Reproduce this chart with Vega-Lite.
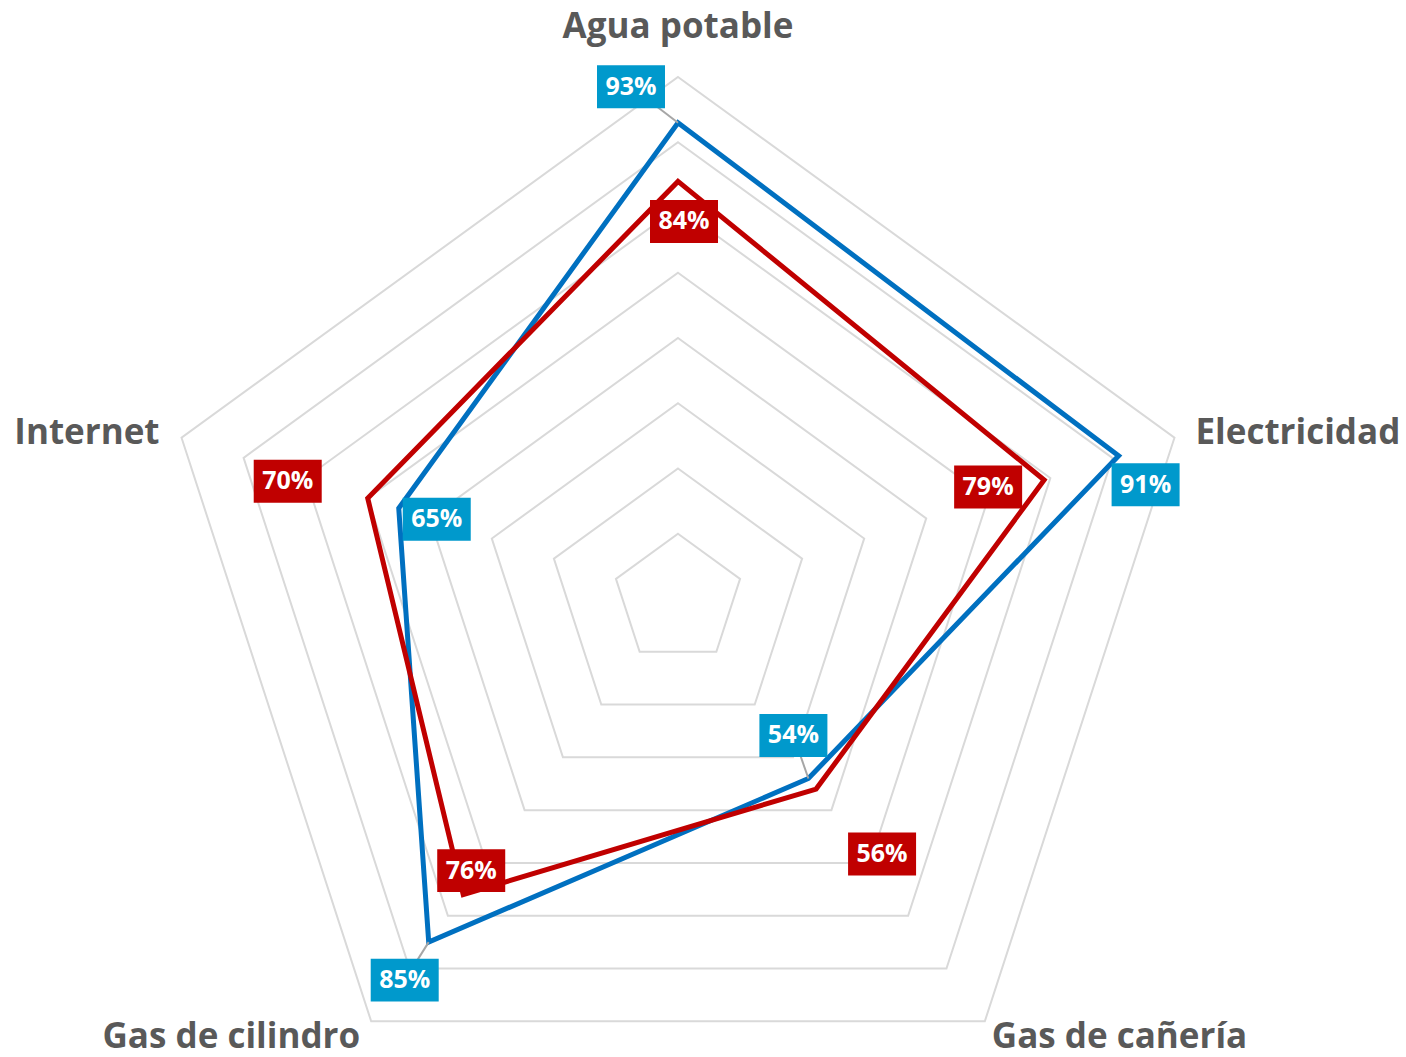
{
  "$schema": "https://vega.github.io/schema/vega-lite/v6.json",
  "width": 1406,
  "height": 1057,
  "autosize": {"type": "none"},
  "padding": 0,
  "background": "white",
  "config": {"view": {"stroke": null}},
  "datasets": {
    "values": [
      {"series": "Serie 1", "category": "Agua potable", "value": 0.93},
      {"series": "Serie 1", "category": "Electricidad", "value": 0.91},
      {"series": "Serie 1", "category": "Gas de cañería", "value": 0.54},
      {"series": "Serie 1", "category": "Gas de cilindro", "value": 0.85},
      {"series": "Serie 1", "category": "Internet", "value": 0.65},
      {"series": "Serie 2", "category": "Agua potable", "value": 0.84},
      {"series": "Serie 2", "category": "Electricidad", "value": 0.79},
      {"series": "Serie 2", "category": "Gas de cañería", "value": 0.56},
      {"series": "Serie 2", "category": "Gas de cilindro", "value": 0.76},
      {"series": "Serie 2", "category": "Internet", "value": 0.70}
    ],
    "grid": [
      {"level": 0.3, "idx": [0, 1, 2, 3, 4]},
      {"level": 0.4, "idx": [0, 1, 2, 3, 4]},
      {"level": 0.5, "idx": [0, 1, 2, 3, 4]},
      {"level": 0.6, "idx": [0, 1, 2, 3, 4]},
      {"level": 0.7, "idx": [0, 1, 2, 3, 4]},
      {"level": 0.8, "idx": [0, 1, 2, 3, 4]},
      {"level": 0.9, "idx": [0, 1, 2, 3, 4]},
      {"level": 1.0, "idx": [0, 1, 2, 3, 4]}
    ]
  },
  "layer": [
    {
      "data": {"name": "grid"},
      "transform": [
        {"flatten": ["idx"]},
        {"calculate": "(datum.level - 0.2) / 0.8 * 522", "as": "r"},
        {"calculate": "datum.r * sin(datum.idx * 2 * PI / 5)", "as": "x"},
        {"calculate": "datum.r * cos(datum.idx * 2 * PI / 5)", "as": "y"}
      ],
      "mark": {"type": "line", "interpolate": "linear-closed", "stroke": "#D9D9D9", "strokeWidth": 2},
      "encoding": {
        "x": {"field": "x", "type": "quantitative", "scale": {"domain": [-678, 728], "nice": false, "zero": false}, "axis": null},
        "y": {"field": "y", "type": "quantitative", "scale": {"domain": [-458, 599], "nice": false, "zero": false}, "axis": null},
        "detail": {"field": "level", "type": "nominal"},
        "order": {"field": "idx", "type": "quantitative"}
      }
    },
    {
      "data": {"name": "values"},
      "transform": [
        {"calculate": "indexof(['Agua potable','Electricidad','Gas de cañería','Gas de cilindro','Internet'], datum.category)", "as": "idx"},
        {"calculate": "(datum.value - 0.2) / 0.8 * 522", "as": "r"},
        {"calculate": "datum.r * sin(datum.idx * 2 * PI / 5)", "as": "x"},
        {"calculate": "datum.r * cos(datum.idx * 2 * PI / 5)", "as": "y"}
      ],
      "mark": {"type": "line", "interpolate": "linear-closed", "strokeWidth": 5, "strokeJoin": "miter"},
      "encoding": {
        "x": {"field": "x", "type": "quantitative", "scale": {"domain": [-678, 728], "nice": false, "zero": false}, "axis": null},
        "y": {"field": "y", "type": "quantitative", "scale": {"domain": [-458, 599], "nice": false, "zero": false}, "axis": null},
        "stroke": {"field": "series", "type": "nominal", "scale": {"domain": ["Serie 1", "Serie 2"], "range": ["#0070C0", "#C00000"]}, "legend": null},
        "detail": {"field": "series", "type": "nominal"},
        "order": {"field": "idx", "type": "quantitative"}
      }
    },
    {
      "data": {"name": "values"},
      "transform": [
        {"calculate": "indexof(['Agua potable','Electricidad','Gas de cañería','Gas de cilindro','Internet'], datum.category)", "as": "idx"},
        {"calculate": "(datum.value - 0.2) / 0.8 * 522", "as": "r"},
        {"calculate": "datum.r * sin(datum.idx * 2 * PI / 5)", "as": "x"},
        {"calculate": "datum.r * cos(datum.idx * 2 * PI / 5)", "as": "y"},
        {"calculate": "(datum.series == 'Serie 1' ? 0 : 5) + datum.idx", "as": "k"},
        {"calculate": "datum.x + [-47, 27, -15, -24, 38, 6, -56, 66, 8, -80][datum.k]", "as": "lx"},
        {"calculate": "datum.y - [-36, 29, -43, 38, 11, 40, 7, 65, -24, -17][datum.k]", "as": "ly"}
      ],
      "layer": [
        {
          "transform": [{"filter": "datum.k == 0 || datum.k == 2 || datum.k == 3"}],
          "mark": {"type": "rule", "stroke": "#A6A6A6", "strokeWidth": 2},
          "encoding": {
            "x": {"field": "lx", "type": "quantitative", "scale": {"domain": [-678, 728], "nice": false, "zero": false}, "axis": null},
            "y": {"field": "ly", "type": "quantitative", "scale": {"domain": [-458, 599], "nice": false, "zero": false}, "axis": null},
            "x2": {"field": "x"},
            "y2": {"field": "y"}
          }
        },
        {
          "mark": {"type": "point", "shape": "M-1,-0.632H1V0.632H-1Z", "size": 4624, "filled": true, "opacity": 1, "strokeWidth": 0},
          "encoding": {
            "x": {"field": "lx", "type": "quantitative", "scale": {"domain": [-678, 728], "nice": false, "zero": false}, "axis": null},
            "y": {"field": "ly", "type": "quantitative", "scale": {"domain": [-458, 599], "nice": false, "zero": false}, "axis": null},
            "fill": {"field": "series", "type": "nominal", "scale": {"domain": ["Serie 1", "Serie 2"], "range": ["#0099CC", "#C00000"]}, "legend": null}
          }
        },
        {
          "mark": {"type": "text", "font": "Open Sans", "fontWeight": "bold", "fontSize": 25, "fill": "white", "align": "center", "baseline": "middle", "dy": 0},
          "encoding": {
            "x": {"field": "lx", "type": "quantitative", "scale": {"domain": [-678, 728], "nice": false, "zero": false}, "axis": null},
            "y": {"field": "ly", "type": "quantitative", "scale": {"domain": [-458, 599], "nice": false, "zero": false}, "axis": null},
            "text": {"field": "value", "type": "quantitative", "format": ".0%"}
          }
        }
      ]
    },
    {
      "data": {"name": "values"},
      "transform": [
        {"filter": "datum.series == 'Serie 1'"},
        {"calculate": "indexof(['Agua potable','Electricidad','Gas de cañería','Gas de cilindro','Internet'], datum.category)", "as": "idx"},
        {"calculate": "522 * sin(datum.idx * 2 * PI / 5)", "as": "x"},
        {"calculate": "522 * cos(datum.idx * 2 * PI / 5)", "as": "y"}
      ],
      "mark": {
        "type": "text",
        "font": "Open Sans",
        "fontWeight": "bold",
        "fontSize": 35,
        "fill": "#595959",
        "baseline": "alphabetic",
        "align": {"expr": "datum.idx == 0 ? 'center' : (datum.idx <= 2 ? 'left' : 'right')"},
        "dx": {"expr": "[0, 21, 7, -11, -22][datum.idx]"},
        "dy": {"expr": "[-39, 6, 27, 27, 6][datum.idx]"}
      },
      "encoding": {
        "x": {"field": "x", "type": "quantitative", "scale": {"domain": [-678, 728], "nice": false, "zero": false}, "axis": null},
        "y": {"field": "y", "type": "quantitative", "scale": {"domain": [-458, 599], "nice": false, "zero": false}, "axis": null},
        "text": {"field": "category", "type": "nominal"}
      }
    }
  ]
}
